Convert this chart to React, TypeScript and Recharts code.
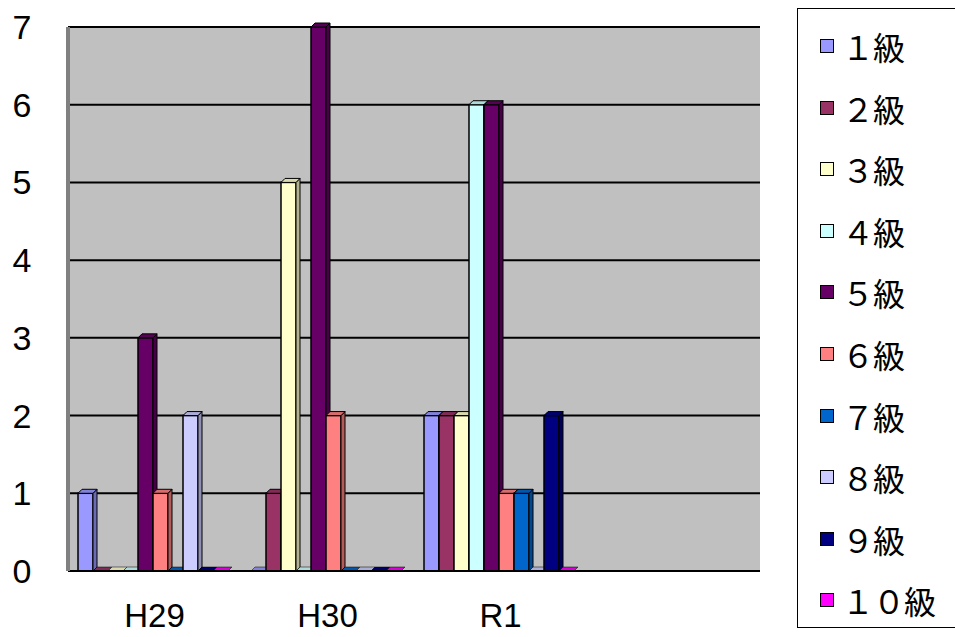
import React from "react";
import {
  BarChart,
  Bar,
  XAxis,
  YAxis,
  CartesianGrid,
  Legend,
} from "recharts";

const years = ["H29", "H30", "R1", ""];
const grades = ["１級", "２級", "３級", "４級", "５級", "６級", "７級", "８級", "９級", "１０級"];
const colors = [
  "#9999FF",
  "#993366",
  "#FFFFCC",
  "#CCFFFF",
  "#660066",
  "#FF8080",
  "#0066CC",
  "#CCCCFF",
  "#000080",
  "#FF00FF",
];
// counts per grade, one value per year (H29, H30, R1, blank)
const g1 = [1, 0, 2, null];
const g2 = [0, 1, 2, null];
const g3 = [0, 5, 2, null];
const g4 = [0, 0, 6, null];
const g5 = [3, 7, 6, null];
const g6 = [1, 2, 1, null];
const g7 = [0, 0, 1, null];
const g8 = [2, 0, 0, null];
const g9 = [0, 0, 2, null];
const g10 = [0, 0, 0, null];
const yTicks = [0, 1, 2, 3, 4, 5, 6, 7];

const series = [g1, g2, g3, g4, g5, g6, g7, g8, g9, g10];

const chartData = years.map((y, i) => {
  const row: any = { year: y };
  series.forEach((s, k) => {
    row["g" + k] = s[i];
  });
  return row;
});

const font = "'Liberation Sans', 'Noto Sans CJK JP', sans-serif";

function shade(hex: string, f: number) {
  const n = parseInt(hex.slice(1), 16);
  const r = Math.round(((n >> 16) & 255) * f);
  const g = Math.round(((n >> 8) & 255) * f);
  const b = Math.round((n & 255) * f);
  return `rgb(${r},${g},${b})`;
}

// fake 3D column like the old Excel chart
const Column = (props: any) => {
  const { x, y, width, height, fill, value } = props;
  if (value == null) return null;
  const d = 4;
  const h = Math.max(height || 0, 0);
  const side = shade(fill, 0.7);
  const top = shade(fill, 0.85);
  return (
    <g>
      {h > 0 && (
        <rect x={x} y={y} width={width} height={h} fill={fill} stroke="#000" strokeWidth={1.5} />
      )}
      {h > 0 && (
        <polygon
          points={`${x + width},${y} ${x + width + d},${y - d} ${x + width + d},${y + h - d} ${x + width},${y + h}`}
          fill={side}
          stroke="#000"
          strokeWidth={1}
        />
      )}
      <polygon
        points={`${x},${y} ${x + d},${y - d} ${x + width + d},${y - d} ${x + width},${y}`}
        fill={top}
        stroke="#000"
        strokeWidth={h > 0 ? 1 : 0.5}
      />
    </g>
  );
};

const LegendBox = () => (
  <div
    style={{
      position: "absolute",
      left: 797,
      top: 8,
      width: 160,
      height: 620,
      border: "1px solid #000",
      background: "#fff",
      boxSizing: "border-box",
      fontFamily: "'Noto Sans CJK JP', sans-serif",
    }}
  >
    {grades.map((g, i) => (
      <div
        key={g}
        style={{
          position: "absolute",
          left: 22,
          top: 37 + i * 61.6 - 22,
          height: 44,
          display: "flex",
          alignItems: "center",
          fontSize: 32,
          color: "#000",
          whiteSpace: "nowrap",
          letterSpacing: -1,
        }}
      >
        <span
          style={{
            display: "inline-block",
            width: 12,
            height: 12,
            background: colors[i],
            border: "1.5px solid #000",
            marginRight: 8,
          }}
        />
        {g}
      </div>
    ))}
  </div>
);

export default function App() {
  return (
    <div style={{ position: "absolute", left: 0, top: 0, width: 955, height: 637, background: "#fff" }}>
      <BarChart
        width={955}
        height={637}
        data={chartData}
        margin={{ top: 27, right: 195, left: 0, bottom: 16 }}
        barCategoryGap={10}
        barGap={0}
      >
        <CartesianGrid
          vertical={false}
          stroke="#000"
          strokeWidth={2}
          fill="#C0C0C0"
          fillOpacity={1}
        />
        <XAxis
          dataKey="year"
          height={50}
          axisLine={{ stroke: "#000", strokeWidth: 2 }}
          tickLine={false}
          tick={{ fontSize: 33, fill: "#000", fontFamily: font, dy: 25 }}
        />
        <YAxis
          width={68}
          domain={[0, 7]}
          ticks={yTicks}
          interval={0}
          axisLine={{ stroke: "#808080", strokeWidth: 4 }}
          tickLine={false}
          tick={{ fontSize: 34, fill: "#000", fontFamily: font, textAnchor: "middle", dx: -38 }}
        />
        <Legend content={() => null} />
        {series.map((_, k) => (
          <Bar
            key={k}
            dataKey={"g" + k}
            name={grades[k]}
            fill={colors[k]}
            shape={<Column />}
            isAnimationActive={false}
          />
        ))}
      </BarChart>
      <LegendBox />
    </div>
  );
}
